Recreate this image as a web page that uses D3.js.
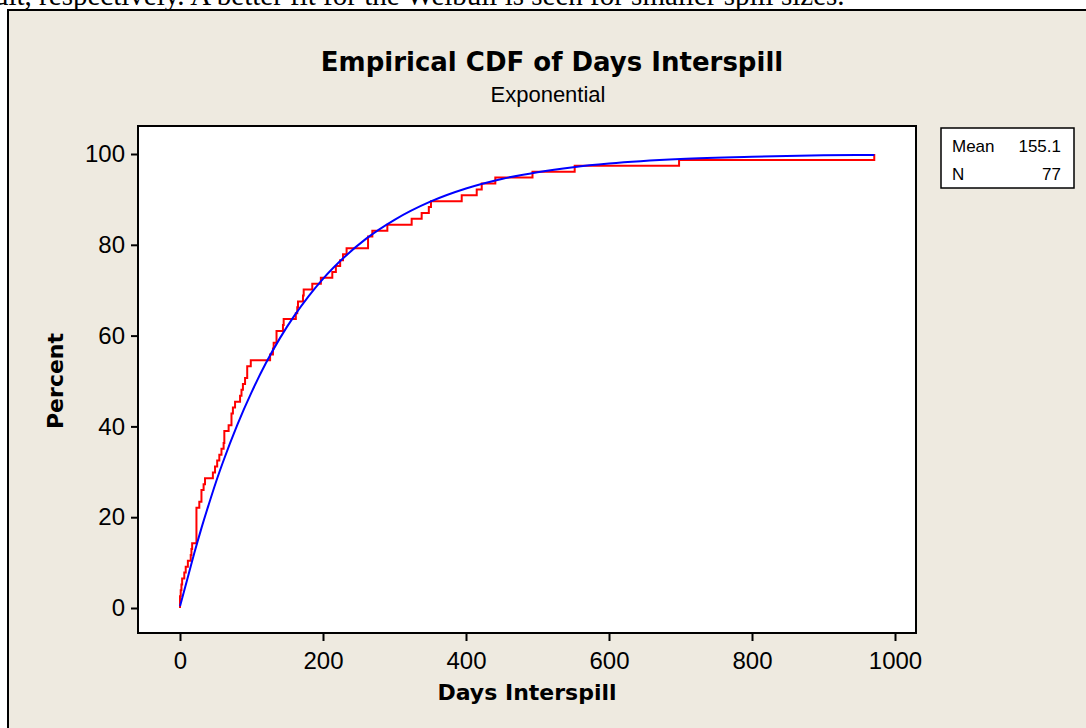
<!DOCTYPE html>
<html>
<head>
<meta charset="utf-8">
<script src="https://cdn.jsdelivr.net/npm/d3@7"></script>
<style>
  body { margin: 0; background: #fff; }
  svg { display: block; }
</style>
</head>
<body>
<div id="chart"></div>
<script>
// sorted interspill days (77 spills)
const days = [
  0, 0, 1, 2, 3, 6, 8, 11, 15, 16, 17, 23, 23, 23, 23, 23, 23, 27, 30, 30,
  33, 35, 46, 49, 52, 55, 58, 61, 62, 62, 68, 72, 72, 74, 77, 84, 86, 88, 91, 94,
  94, 99, 126, 130, 131, 135, 135, 144, 145, 162, 164, 165, 172, 173, 185, 197, 213, 218, 224, 228,
  233, 263, 263, 269, 290, 324, 338, 348, 351, 394, 415, 422, 441, 493, 552, 698, 971
];

// fitted exponential curve (blue)
const fitDays    = [0, 10, 20, 30, 40, 50, 60, 80, 100, 120, 140, 160, 180, 200, 230, 260, 300, 350, 400, 450, 500, 550, 600, 700, 800, 900, 971];
const fitPercent = [0.4, 6.2, 12.1, 17.6, 22.7, 27.6, 32.1, 40.3, 47.5, 53.9, 59.5, 64.4, 68.7, 72.5, 77.3, 81.3, 85.5, 89.5, 92.4, 94.5, 96.0, 97.1, 97.9, 98.9, 99.4, 99.7, 99.8];

const xTicks = [0, 200, 400, 600, 800, 1000];
const yTicks = [0, 20, 40, 60, 80, 100];

const legendRows = [["Mean", "155.1"], ["N", "77"]];

const W = 1086, H = 728;
const sans = "'Liberation Sans', Arial, sans-serif";
const dejavu = "'DejaVu Sans', Verdana, sans-serif";

const svg = d3.select("#chart").append("svg")
  .attr("width", W).attr("height", H);

// text of the page above the figure, cut off at the top like the scan
svg.append("text")
  .attr("x", -6).attr("y", 5)
  .attr("font-family", "'Liberation Serif', 'Times New Roman', serif")
  .attr("font-size", 29)
  .text("ult, respectively. A better fit for the Weibull is seen for smaller spill sizes.");

// graph window
svg.append("rect")
  .attr("x", 8).attr("y", 10).attr("width", W + 20).attr("height", H + 20)
  .attr("fill", "#eeeae0").attr("stroke", "#000").attr("stroke-width", 2);

// plot area
const plot = { left: 138, top: 126, right: 916, bottom: 633 };
svg.append("rect")
  .attr("x", plot.left).attr("y", plot.top)
  .attr("width", plot.right - plot.left).attr("height", plot.bottom - plot.top)
  .attr("fill", "#fff").attr("stroke", "#000").attr("stroke-width", 2);

const x = d3.scaleLinear().domain([0, 1000]).range([180, 895]);
const y = d3.scaleLinear().domain([0, 100]).range([608, 154]);

// axes
const xAxis = svg.append("g")
  .attr("transform", `translate(0,${plot.bottom})`)
  .call(d3.axisBottom(x).tickValues(xTicks).tickFormat(d3.format("d"))
    .tickSize(8).tickPadding(11));
const yAxis = svg.append("g")
  .attr("transform", `translate(${plot.left},0)`)
  .call(d3.axisLeft(y).tickValues(yTicks).tickFormat(d3.format("d"))
    .tickSize(7).tickPadding(6));

[xAxis, yAxis].forEach(g => {
  g.select(".domain").remove();
  g.selectAll(".tick line").attr("stroke", "#000").attr("stroke-width", 2);
  g.selectAll(".tick text")
    .attr("fill", "#000")
    .attr("font-family", sans)
    .attr("font-size", 24);
});

// red empirical CDF
const n = days.length;
const ecdf = [[days[0], 0]];
days.forEach((d, i) => {
  if (i === n - 1 || days[i + 1] !== d) ecdf.push([d, (i + 1) / n * 100]);
});

svg.append("path")
  .datum(ecdf)
  .attr("fill", "none")
  .attr("stroke", "#ff0000")
  .attr("stroke-width", 2)
  .attr("d", d3.line()
    .x(d => x(d[0]))
    .y(d => y(d[1]))
    .curve(d3.curveStepAfter));

// blue fitted curve
const fit = fitDays.map((d, i) => [d, fitPercent[i]]);
svg.append("path")
  .datum(fit)
  .attr("fill", "none")
  .attr("stroke", "#0000ff")
  .attr("stroke-width", 2)
  .attr("d", d3.line()
    .x(d => x(d[0]))
    .y(d => y(d[1]))
    .curve(d3.curveMonotoneX));

// titles
svg.append("text")
  .attr("x", 552).attr("y", 71)
  .attr("text-anchor", "middle")
  .attr("font-family", dejavu).attr("font-weight", "bold").attr("font-size", 26)
  .text("Empirical CDF of Days Interspill");

svg.append("text")
  .attr("x", 548).attr("y", 102)
  .attr("text-anchor", "middle")
  .attr("font-family", sans).attr("font-size", 22)
  .text("Exponential");

svg.append("text")
  .attr("x", 527).attr("y", 700)
  .attr("text-anchor", "middle")
  .attr("font-family", dejavu).attr("font-weight", "bold").attr("font-size", 22)
  .text("Days Interspill");

svg.append("text")
  .attr("transform", "translate(63,381) rotate(-90)")
  .attr("text-anchor", "middle")
  .attr("font-family", dejavu).attr("font-weight", "bold").attr("font-size", 22)
  .text("Percent");

// legend box
const leg = svg.append("g");
leg.append("rect")
  .attr("x", 941).attr("y", 128).attr("width", 133).attr("height", 60)
  .attr("fill", "#fff").attr("stroke", "#000").attr("stroke-width", 1.5);

legendRows.forEach((row, i) => {
  const by = 152 + i * 28;
  leg.append("text")
    .attr("x", 952).attr("y", by)
    .attr("font-family", sans).attr("font-size", 17)
    .text(row[0]);
  leg.append("text")
    .attr("x", 1061).attr("y", by)
    .attr("text-anchor", "end")
    .attr("font-family", sans).attr("font-size", 17)
    .text(row[1]);
});
</script>
</body>
</html>
